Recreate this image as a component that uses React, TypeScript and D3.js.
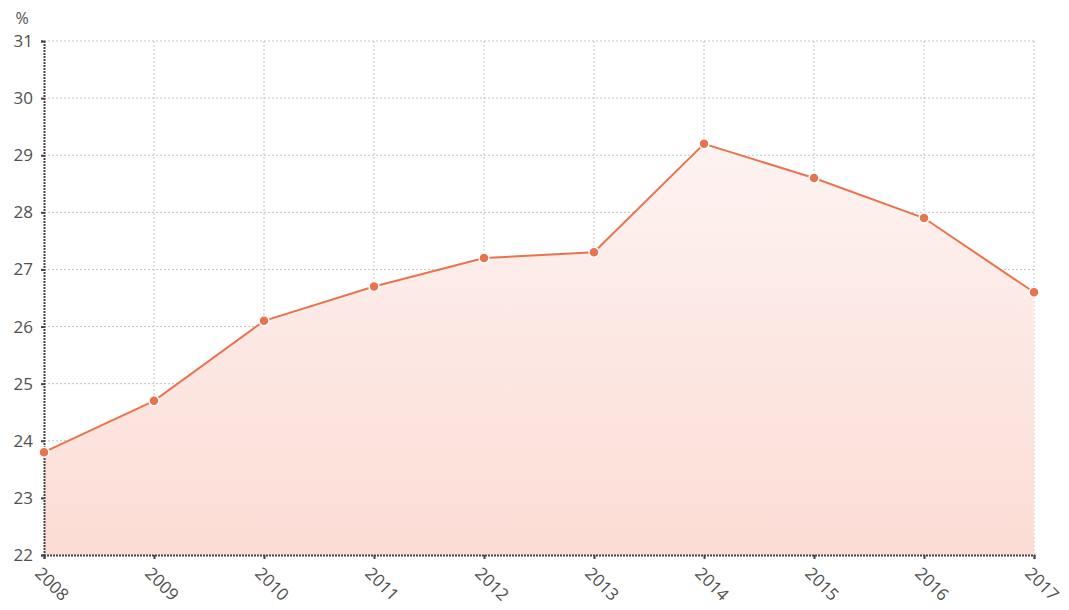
import React, { useEffect, useRef } from "react";
import * as d3 from "d3";

const years = ["2008", "2009", "2010", "2011", "2012", "2013", "2014", "2015", "2016", "2017"];
const values = [23.8, 24.7, 26.1, 26.7, 27.2, 27.3, 29.2, 28.6, 27.9, 26.6];
const yTicks = [22, 23, 24, 25, 26, 27, 28, 29, 30, 31];

const width = 1069;
const height = 610;
const margin = { top: 41, right: 35, bottom: 55, left: 44 };
const color = "#e8734f";
const font = "'Open Sans', 'Noto Sans', sans-serif";

export default function App() {
  const svgRef = useRef<SVGSVGElement>(null);

  useEffect(() => {
    if (!svgRef.current) return;
    const svg = d3.select(svgRef.current);
    svg.selectAll("*").remove();

    const x = d3
      .scalePoint<string>()
      .domain(years)
      .range([margin.left, width - margin.right]);
    const y = d3
      .scaleLinear()
      .domain([22, 31])
      .range([height - margin.bottom, margin.top]);

    // gradient for the area
    const defs = svg.append("defs");
    const grad = defs
      .append("linearGradient")
      .attr("id", "areaGrad")
      .attr("gradientUnits", "userSpaceOnUse")
      .attr("x1", 0)
      .attr("x2", 0)
      .attr("y1", y(29.2))
      .attr("y2", y(22));
    grad.append("stop").attr("offset", "0%").attr("stop-color", "#fdf3f1");
    grad.append("stop").attr("offset", "100%").attr("stop-color", "#fcdcd5");

    // grid
    const grid = svg.append("g");
    grid
      .selectAll("line.h")
      .data(yTicks.slice(1))
      .enter()
      .append("line")
      .attr("x1", margin.left)
      .attr("x2", width - margin.right)
      .attr("y1", (d) => y(d))
      .attr("y2", (d) => y(d))
      .attr("stroke", "#c4c4c4")
      .attr("stroke-dasharray", "2,2");
    grid
      .selectAll("line.v")
      .data(years.slice(1))
      .enter()
      .append("line")
      .attr("x1", (d) => x(d)!)
      .attr("x2", (d) => x(d)!)
      .attr("y1", margin.top)
      .attr("y2", height - margin.bottom)
      .attr("stroke", "#c4c4c4")
      .attr("stroke-dasharray", "2,2");

    // area
    const area = d3
      .area<number>()
      .x((_, i) => x(years[i])!)
      .y0(y(22))
      .y1((d) => y(d));
    svg.append("path").datum(values).attr("d", area).attr("fill", "url(#areaGrad)");

    // axes
    const xAxis = svg
      .append("g")
      .attr("transform", `translate(0,${height - margin.bottom})`)
      .call(d3.axisBottom(x).tickSize(4).tickPadding(6));
    xAxis.select(".domain").attr("stroke", "#444").attr("stroke-width", 2).attr("stroke-dasharray", "2,1");
    xAxis.selectAll(".tick line").attr("stroke", "#444").attr("stroke-width", 2);
    xAxis
      .selectAll<SVGTextElement, string>(".tick text")
      .attr("text-anchor", "start")
      .attr("transform", "translate(5,4) rotate(45)")
      .attr("dy", "0.7em")
      .style("font-family", font)
      .style("font-size", "17px")
      .attr("fill", "#505050");

    const yAxis = svg
      .append("g")
      .attr("transform", `translate(${margin.left},0)`)
      .call(d3.axisLeft(y).tickValues(yTicks).tickFormat(d3.format("d")).tickSize(3).tickPadding(8));
    yAxis.select(".domain").attr("stroke", "#444").attr("stroke-width", 2).attr("stroke-dasharray", "2,1");
    yAxis.selectAll(".tick line").attr("stroke", "#444").attr("stroke-width", 2);
    yAxis
      .selectAll(".tick text")
      .style("font-family", font)
      .style("font-size", "17px")
      .attr("fill", "#505050");

    svg
      .append("text")
      .attr("x", 22)
      .attr("y", 24)
      .attr("text-anchor", "middle")
      .style("font-family", font)
      .style("font-size", "16px")
      .attr("fill", "#505050")
      .text("%");

    // line
    const line = d3
      .line<number>()
      .x((_, i) => x(years[i])!)
      .y((d) => y(d));
    svg
      .append("path")
      .datum(values)
      .attr("d", line)
      .attr("fill", "none")
      .attr("stroke", color)
      .attr("stroke-width", 2);

    svg
      .selectAll("circle.pt")
      .data(values)
      .enter()
      .append("circle")
      .attr("cx", (_, i) => x(years[i])!)
      .attr("cy", (d) => y(d))
      .attr("r", 5)
      .attr("fill", color)
      .attr("stroke", "#fff")
      .attr("stroke-width", 1.5);
  }, []);

  return (
    <svg
      ref={svgRef}
      width={width}
      height={height}
      style={{ position: "absolute", left: 0, top: 0, background: "#fff" }}
    ></svg>
  );
}
